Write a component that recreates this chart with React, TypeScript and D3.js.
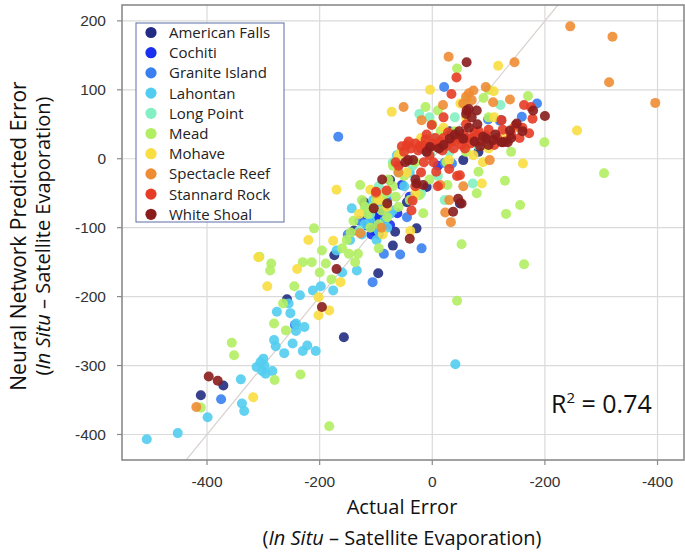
import React from "react";
import * as d3 from "d3";

const seriesNames = [
  "American Falls", "Cochiti", "Granite Island", "Lahontan", "Long Point",
  "Mead", "Mohave", "Spectacle Reef", "Stannard Rock", "White Shoal",
];
const seriesColors = [
  "#222c82", "#1a30ee", "#3a7fef", "#52cdf0", "#82f0c2",
  "#b2ee62", "#f8de40", "#ee8c34", "#e63c26", "#8a1c1c",
];

const americanFalls: [number, number][] = [
  [-411, -343], [-371, -329], [-157, -259], [-258, -204], [-174, -140], [-96, -166],
  [-121, -63], [-66, -106], [-28, -101], [-75, -31], [49, -65], [55, -2], [-10, -41],
  [82, 10], [122, 56], [-139, -104], [-45, -63], [-70, -126], [-100, -80], [-20, 15], [30, 40],
];
const cochiti: [number, number][] = [
  [-105, -92], [-110, -85], [-98, -100], [-95, -88], [-115, -97], [-102, -105], [-88, -95],
  [-75, -96], [-62, -79], [-54, -38], [-100, -75], [-120, -90], [-85, -70], [-40, -55],
  [10, -10], [-108, -110], [-92, -82], [-112, -78], [-95, -110], [-105, -80],
];
const graniteIsland: [number, number][] = [
  [-167, 32], [21, 104], [159, 61], [186, 80], [99, 57], [-86, -138], [-57, -139],
  [-19, -130], [-106, -179], [-375, -349], [-244, -241], [22, -6], [35, -7], [120, 55],
  [-60, -10], [-130, -90], [-80, -60], [60, 30], [-10, 10], [-150, -110], [-45, -85],
];
const lahontan: [number, number][] = [
  [-507, -407], [-452, -398], [-399, -375], [-340, -320], [-338, -355], [-334, -366],
  [-312, -302], [-305, -295], [-302, -308], [-298, -300], [-296, -312], [-300, -290],
  [-284, -308], [-281, -263], [-278, -272], [-263, -282], [-248, -268], [-230, -279],
  [-222, -271], [-207, -279], [-242, -239], [-227, -244], [-276, -222], [-252, -224],
  [-235, -198], [-212, -191], [-198, -185], [-176, -191], [-170, -133], [-143, -72],
  [-134, -162], [41, -298], [-63, 5], [-117, -70], [-99, -118], [-146, -118], [-85, -90],
  [-75, -80], [-105, -60], [-50, -40], [-95, -105], [-120, -95], [-40, -20], [-255, -210],
  [-242, -250], [-160, -165], [-110, -90], [-92, -65], [-80, -100], [-125, -110], [-70, -75],
];
const longPoint: [number, number][] = [
  [72, -36], [121, 78], [22, -60], [-23, 65], [-60, -20], [-80, -50], [-35, -10], [0, 30],
  [40, 60], [-110, -80], [-95, -40], [-20, -50], [80, 20], [10, -25], [-130, -105],
  [-70, -5], [30, 10], [-5, 60], [-4, 7],
];
const mead: [number, number][] = [
  [-356, -267], [-352, -285], [-411, -361], [-307, -142], [-286, -152], [-288, -162],
  [-281, -239], [-280, -321], [-260, -249], [-245, -185], [-234, -313], [-210, -101],
  [-214, -150], [-196, -133], [-189, -152], [-183, -388], [-179, -175], [-152, -118],
  [-145, -107], [-148, -138], [-132, -138], [-128, -38], [-12, 75], [52, -124], [44, -206],
  [163, -153], [156, -67], [131, -80], [129, -32], [199, 24], [305, -21], [170, 91],
  [82, -19], [79, -50], [44, 131], [91, 88], [27, -38], [-23, -53], [-16, -79],
  [-100, -60], [-90, -75], [-85, -50], [-80, -85], [-70, -40], [-60, -70], [-110, -100],
  [-120, -70], [-50, -25], [-40, -60], [-30, -5], [-70, -10], [-55, 10], [-20, 20],
  [0, 50], [10, 70], [60, 85], [100, 100], [-160, -130], [-137, -150], [-95, -130],
  [-200, -165], [-230, -150], [-265, -210], [-115, -80], [-105, -70], [-95, -95],
  [-88, -60], [-78, -30], [-65, -55], [-125, -60], [-140, -90], [40, 40], [15, 40],
  [-5, -30], [25, -5], [60, 10], [100, 60], [140, 10],
];
const mohave: [number, number][] = [
  [257, 41], [117, 135], [-4, 100], [-72, 68], [109, 98], [161, -7], [88, -36],
  [-170, -45], [-309, -143], [-293, -185], [-240, -160], [-220, -118], [-176, -119],
  [-202, -201], [-183, -220], [-202, -227], [-163, -179], [-318, -346], [-39, -105],
  [-60, 5], [-20, 30], [130, 30], [30, -2], [-88, -110], [-45, -20], [73, 5], [100, 15],
  [-110, -45], [-130, -80], [90, -5], [50, 80], [-80, -70], [-95, -60], [20, 45],
  [60, 60], [110, 60], [-30, -50],
];
const spectacleReef: [number, number][] = [
  [245, 192], [320, 177], [314, 111], [396, 81], [146, 140], [138, 86], [108, 82],
  [95, 104], [102, -2], [29, 148], [-51, 75], [-19, 56], [55, 80], [60, 90], [65, 95],
  [70, 85], [73, 99], [19, 78], [23, -78], [33, -92], [-128, -108], [-419, -360],
  [-60, -20], [-90, -100], [30, -60], [40, 25], [14, -38], [80, 35], [145, 45],
  [-100, -50], [55, -40],
];
const stannardRock: [number, number][] = [
  [43, 118], [34, 94], [163, 78], [172, 37], [-1, 49], [123, 56], [178, 58], [44, -25],
  [-35, -61], [7, -19], [2, -5], [49, -24], [-54, 18], [-45, 20], [-38, 15], [-30, 22],
  [-22, 18], [-15, 20], [-8, 14], [0, 22], [8, 17], [14, 25], [20, 30], [28, 38],
  [35, 25], [42, 33], [48, 28], [55, 36], [62, 30], [68, 22], [75, 38], [85, 25],
  [95, 34], [110, 20], [125, 42], [148, 49], [155, 30], [-100, -48], [-20, -20],
  [-60, -10], [-5, 5], [-30, -40], [10, -40], [-81, -46], [-37, -75], [60, 50], [20, 60],
  [-10, 35], [130, 25], [-50, 10], [-42, 25], [-25, 12], [-12, 28], [5, 30], [18, 12],
  [25, 18], [38, 15], [52, 20], [58, 15], [72, 30], [82, 40], [100, 42], [115, 30],
  [140, 35], [160, 45], [175, 75], [-65, -5], [-15, -5], [30, -15],
];
const whiteShoal: [number, number][] = [
  [61, 140], [61, 70], [79, 70], [179, 70], [200, 62], [138, 41], [150, 51], [134, 24],
  [123, 24], [96, 29], [108, 27], [46, -58], [37, -77], [-40, -116], [-104, -72],
  [-28, -36], [-16, -38], [-43, -2], [-34, -2], [52, -65], [-170, -160], [-196, -215],
  [-397, -316], [-381, -322], [31, 29], [55, 29], [90, 32], [126, 24], [-4, 17],
  [12, 15], [70, 60], [65, 45], [-89, -30], [-80, -65], [-10, 10], [20, 20], [80, 50],
  [40, 35], [48, 40], [75, 25], [85, 18], [100, 20], [112, 35], [140, 30], [160, 40],
  [-30, -30], [-48, -5], [60, 65], [65, 72],
];
const seriesData = [
  americanFalls, cochiti, graniteIsland, lahontan, longPoint,
  mead, mohave, spectacleReef, stannardRock, whiteShoal,
];

const xTicks = [-400, -200, 0, 200, 400];
const xTickLabels = ["-400", "-200", "0", "-200", "-400"];
const yTicks = [-400, -300, -200, -100, 0, 100, 200];
const yTickLabels = ["-400", "-300", "-200", "-100", "0", "100", "200"];
const xDomain: [number, number] = [-551, 447];
const yDomain: [number, number] = [-437, 223];
const r2Label = "0.74";

export default function App() {
  const W = 685, H = 556;
  const left = 122, right = 684, top = 5, bottom = 460;
  const x = d3.scaleLinear().domain(xDomain).range([left, right]);
  const y = d3.scaleLinear().domain(yDomain).range([bottom, top]);
  const font = "'Open Sans', sans-serif";
  const tickFont = "'Liberation Sans', Arial, sans-serif";
  const lo = Math.max(xDomain[0], yDomain[0]);
  const hi = Math.min(xDomain[1], yDomain[1]);

  return (
    <div style={{ position: "absolute", left: 0, top: 0 }}>
      <svg width={W} height={H} style={{ display: "block", background: "#fff" }}>
        <defs>
          <clipPath id="plotClip">
            <rect x={left} y={top} width={right - left} height={bottom - top} />
          </clipPath>
        </defs>
        {xTicks.map((t) => (
          <line key={"gx" + t} x1={x(t)} x2={x(t)} y1={top} y2={bottom} stroke="#dadada" strokeWidth={1.2} />
        ))}
        {yTicks.map((t) => (
          <line key={"gy" + t} x1={left} x2={right} y1={y(t)} y2={y(t)} stroke="#dadada" strokeWidth={1.2} />
        ))}
        <line
          x1={x(lo)} y1={y(lo)} x2={x(hi)} y2={y(hi)}
          stroke="#d9d2cf" strokeWidth={1.2} clipPath="url(#plotClip)"
        />
        <g clipPath="url(#plotClip)">
          {seriesData.map((pts, si) => (
            <g key={"s" + si} fill={seriesColors[si]} fillOpacity={0.9}>
              {pts.map((p, i) => (
                <circle key={i} cx={x(p[0])} cy={y(p[1])} r={5} />
              ))}
            </g>
          ))}
        </g>
        <rect x={left} y={top} width={right - left} height={bottom - top} fill="none" stroke="#8a8a8a" strokeWidth={1.6} />
        {xTicks.map((t, i) => (
          <g key={"xt" + t}>
            <line x1={x(t)} x2={x(t)} y1={bottom} y2={bottom + 5} stroke="#8a8a8a" strokeWidth={1.2} />
            <text x={x(t)} y={487} textAnchor="middle" fontFamily={tickFont} fontSize={15.5} fill="#333">
              {xTickLabels[i]}
            </text>
          </g>
        ))}
        {yTicks.map((t, i) => (
          <g key={"yt" + t}>
            <line x1={left - 5} x2={left} y1={y(t)} y2={y(t)} stroke="#8a8a8a" strokeWidth={1.2} />
            <text x={106} y={y(t) + 5.5} textAnchor="end" fontFamily={tickFont} fontSize={15.5} fill="#333">
              {yTickLabels[i]}
            </text>
          </g>
        ))}
        <text x={402} y={514} textAnchor="middle" fontFamily={font} fontSize={20} fill="#111">
          Actual Error
        </text>
        <text x={402} y={545} textAnchor="middle" fontFamily={font} fontSize={20} fill="#111">
          (<tspan fontStyle="italic">In Situ</tspan> – Satellite Evaporation)
        </text>
        <text
          transform={`translate(26,236) rotate(-90)`}
          textAnchor="middle" fontFamily={font} fontSize={21} fill="#111"
        >
          Neural Network Predicted Error
        </text>
        <text
          transform={`translate(50,236) rotate(-90)`}
          textAnchor="middle" fontFamily={font} fontSize={20} fill="#111"
        >
          (<tspan fontStyle="italic">In Situ</tspan> – Satellite Evaporation)
        </text>
        <text x={551} y={413} fontFamily={font} fontSize={25} fill="#111">
          R<tspan fontSize={15} dy={-10}>2</tspan>
          <tspan dy={10}> = {r2Label}</tspan>
        </text>
        <rect x={136} y={23} width={148} height={199} fill="#fff" stroke="#5a6ea8" strokeWidth={1} />
        {seriesNames.map((n, i) => (
          <g key={"lg" + i}>
            <circle cx={151} cy={32.5 + i * 20.2} r={5.6} fill={seriesColors[i]} />
            <text x={169} y={38 + i * 20.2} fontFamily={font} fontSize={15} fill="#222">
              {n}
            </text>
          </g>
        ))}
      </svg>
    </div>
  );
}
